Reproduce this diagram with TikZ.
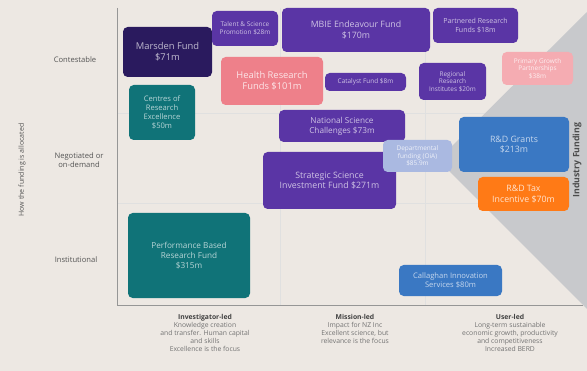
\documentclass[tikz,border=0pt]{standalone}
\usepackage{fontspec}
\setmainfont{Open Sans}
\usepackage{tikz}
\usetikzlibrary{positioning}
\definecolor{bgbeige}{RGB}{237,232,227}
\definecolor{wedgegray}{RGB}{200,201,204}
\definecolor{fundnavy}{RGB}{42,26,94}
\definecolor{fundpurple}{RGB}{90,53,165}
\definecolor{fundpink}{RGB}{238,128,138}
\definecolor{fundlpink}{RGB}{245,172,178}
\definecolor{fundteal}{RGB}{16,115,120}
\definecolor{fundlav}{RGB}{170,185,225}
\definecolor{fundblue}{RGB}{58,120,195}
\definecolor{fundorange}{RGB}{255,122,22}
\definecolor{axisgray}{RGB}{150,150,150}
\definecolor{labelgray}{RGB}{85,85,85}
\newcommand{\fs}[1]{\fontsize{#1}{\dimexpr#1pt*6/5\relax}\selectfont}
\tikzset{
  fund/.style={rounded corners=4pt, fill=#1, text=white!70!#1, align=center,
               inner sep=1pt},
  boxsize/.style 2 args={minimum width=#1*0.03cm, minimum height=#2*0.03cm},
  axislabel/.style={align=center, text=labelgray, font=\fs{6.5}},
  colhead/.style={align=center, text=black!55, font=\fs{5.8}},
  gridline/.style={draw=black!12, line width=0.5pt},
}
\begin{document}
\begin{tikzpicture}[x=0.03cm, y=-0.03cm]
  \fill[bgbeige] (0,0) rectangle (587,371);
  \useasboundingbox (0,0) rectangle (587,371);
  % grid and axes
  \draw[gridline] (117,113) -- (583,113);
  \draw[gridline] (117,203) -- (583,203);
  \draw[gridline] (280,8) -- (280,305);
  \draw[gridline] (425,8) -- (425,305);
  \fill[wedgegray] (587,12) -- (438,160) -- (587,309) -- cycle;
  \draw[axisgray, line width=0.7pt] (117,8) -- (117,305) -- (583,305);
  % funding instruments
  \node[fund=fundnavy, boxsize={89}{50}, font=\fs{8}] (marsden) at (167.5,52) {Marsden Fund\\\$71m};
  \node[fund=fundpurple, boxsize={66}{35}, font=\fs{5.5}] (talent) at (245,28.5) {Talent \& Science\\Promotion \$28m};
  \node[fund=fundpurple, boxsize={148}{44}, font=\fs{7.5}] (endeavour) at (356,30) {MBIE Endeavour Fund\\\$170m};
  \node[fund=fundpurple, boxsize={85}{35}, font=\fs{6}] (partnered) at (475.5,25.5) {Partnered Research\\Funds \$18m};
  \node[fund=fundpink, boxsize={102}{48}, font=\fs{8}, text=white!80!fundpink] (health) at (272,81) {Health Research\\Funds \$101m};
  \node[fund=fundpurple, boxsize={81}{18}, font=\fs{5.5}] (catalyst) at (365.5,82) {Catalyst Fund \$8m};
  \node[fund=fundpurple, boxsize={67}{37}, font=\fs{5.5}] (regional) at (452.5,81.5) {Regional\\Research\\Institutes \$20m};
  \node[fund=fundlpink, boxsize={71}{33}, font=\fs{5.5}, text=white!80!fundlpink] (primary) at (537.5,68.5) {Primary Growth\\Partnerships\\\$38m};
  \node[fund=fundteal, boxsize={66}{55}, font=\fs{6.5}] (core) at (162,112.5) {Centres of\\Research\\Excellence\\\$50m};
  \node[fund=fundpurple, boxsize={126}{32}, font=\fs{7}] (nsc) at (342,126) {National Science\\Challenges \$73m};
  \node[fund=fundpurple, boxsize={133}{57}, font=\fs{7.5}] (ssif) at (329.5,180.5) {Strategic Science\\Investment Fund \$271m};
  \node[fund=fundlav, boxsize={69}{32}, font=\fs{5.5}, text=white!80!fundlav] (dept) at (417.5,156) {Departmental\\funding (OiA)\\\$85.9m};
  \node[fund=fundblue, boxsize={110}{55}, font=\fs{7.5}] (rdgrants) at (514,144.5) {R\&D Grants\\\$213m};
  \node[fund=fundorange, boxsize={91}{34}, font=\fs{7.5}, text=white!80!fundorange] (rdtax) at (523.5,194) {R\&D Tax\\Incentive \$70m};
  \node[fund=fundteal, boxsize={122}{85}, font=\fs{7}] (pbrf) at (189,255.5) {Performance Based\\Research Fund\\\$315m};
  \node[fund=fundblue, boxsize={103}{31}, font=\fs{6.5}] (callaghan) at (450.5,280.5) {Callaghan Innovation\\Services \$80m};
  % axis labels
  \node[axislabel] (contest) at (75,60) {Contestable};
  \node[axislabel] (negot) at (79,160) {Negotiated or\\on-demand};
  \node[axislabel] (instit) at (76,260) {Institutional};
  \node[axislabel, rotate=90, font=\fs{6}] (howalloc) at (22,170) {How the funding is allocated};
  \node[axislabel, rotate=90, font=\bfseries\fs{7.5}, text=black!70] (industry) at (577,160) {Industry Funding};
  \node[colhead, anchor=north] (invest) at (205,310) {\textcolor{black!75}{\textbf{Investigator-led}}\\Knowledge creation\\and transfer. Human capital\\and skills\\Excellence is the focus};
  \node[colhead, anchor=north] (mission) at (355,310) {\textcolor{black!75}{\textbf{Mission-led}}\\Impact for NZ Inc\\Excellent science, but\\relevance is the focus};
  \node[colhead, anchor=north] (user) at (510,310) {\textcolor{black!75}{\textbf{User-led}}\\Long-term sustainable\\economic growth, productivity\\and competitiveness\\Increased BERD};
\end{tikzpicture}
\end{document}
